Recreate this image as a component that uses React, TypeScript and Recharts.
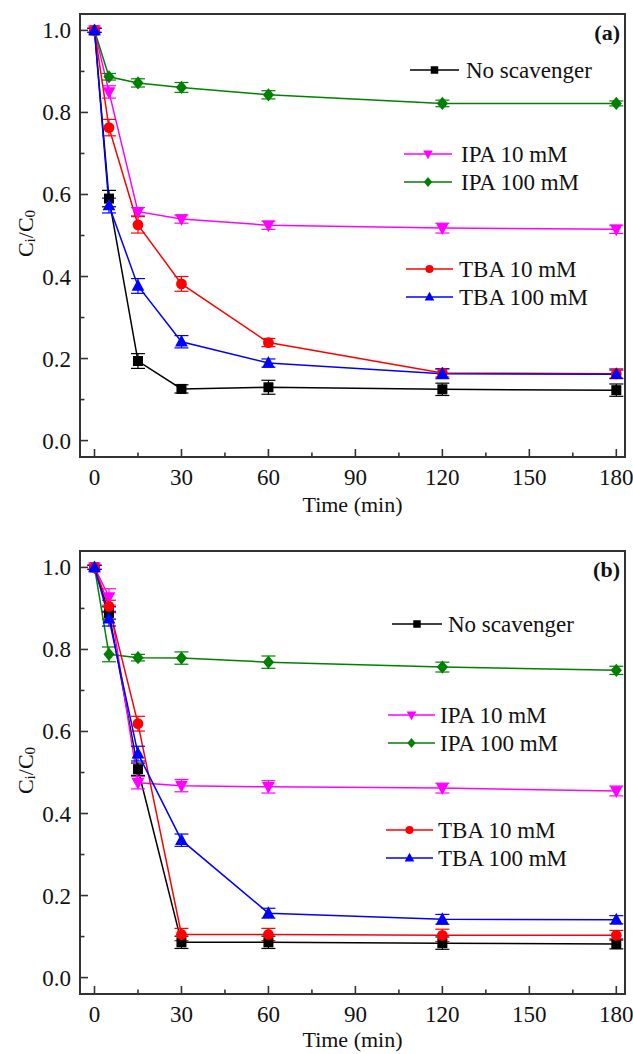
import React from 'react';
import { LineChart, Line, XAxis, YAxis, ErrorBar, ReferenceArea, Label } from 'recharts';

// sampling times (min)
const times = [0, 5, 15, 30, 60, 120, 180];

// panel (a) — Ci/C0
const aNoScav = [1.0, 0.59, 0.194, 0.126, 0.13, 0.125, 0.123];
const aIpa10 = [1.0, 0.85, 0.558, 0.54, 0.525, 0.518, 0.515];
const aIpa100 = [1.0, 0.887, 0.872, 0.861, 0.843, 0.822, 0.822];
const aTba10 = [1.0, 0.763, 0.526, 0.382, 0.239, 0.165, 0.163];
const aTba100 = [1.0, 0.573, 0.377, 0.241, 0.189, 0.163, 0.162];

const aNoScavErr = [0.005, 0.02, 0.018, 0.01, 0.017, 0.015, 0.015];
const aIpa10Err = [0.005, 0.015, 0.01, 0.01, 0.01, 0.012, 0.01];
const aIpa100Err = [0.005, 0.008, 0.01, 0.012, 0.01, 0.008, 0.006];
const aTba10Err = [0.005, 0.02, 0.02, 0.018, 0.01, 0.01, 0.012];
const aTba100Err = [0.005, 0.018, 0.018, 0.015, 0.01, 0.012, 0.01];

// panel (b) — Ci/C0
const bNoScav = [1.0, 0.889, 0.508, 0.086, 0.086, 0.084, 0.082];
const bIpa10 = [1.0, 0.928, 0.475, 0.468, 0.465, 0.462, 0.455];
const bIpa100 = [1.0, 0.788, 0.78, 0.779, 0.769, 0.757, 0.749];
const bTba10 = [1.0, 0.905, 0.619, 0.105, 0.105, 0.103, 0.103];
const bTba100 = [1.0, 0.875, 0.546, 0.335, 0.157, 0.142, 0.141];

const bNoScavErr = [0.005, 0.015, 0.015, 0.015, 0.015, 0.015, 0.012];
const bIpa10Err = [0.005, 0.02, 0.015, 0.015, 0.015, 0.012, 0.012];
const bIpa100Err = [0.005, 0.018, 0.008, 0.015, 0.015, 0.012, 0.01];
const bTba10Err = [0.005, 0.015, 0.018, 0.015, 0.015, 0.015, 0.012];
const bTba100Err = [0.005, 0.018, 0.018, 0.015, 0.012, 0.012, 0.01];

const seriesNames = ['No scavenger', 'IPA 10 mM', 'IPA 100 mM', 'TBA 10 mM', 'TBA 100 mM'];
const seriesColors = ['#000000', '#ff00ff', '#008000', '#ff0000', '#0000ff'];
const seriesMarkers = ['square', 'tridown', 'diamond', 'circle', 'triup'];

const xTicks = [0, 15, 30, 45, 60, 75, 90, 105, 120, 135, 150, 165, 180];
const yTicks = [0, 0.1, 0.2, 0.3, 0.4, 0.5, 0.6, 0.7, 0.8, 0.9, 1.0];

const FONT = '"Liberation Serif", "Times New Roman", serif';
const AXIS = '#333';

const buildRows = (vals: number[][], errs: number[][]) =>
  times.map((t, i) => {
    const row: any = { t };
    vals.forEach((v, k) => {
      row[`s${k}`] = v[i];
      row[`e${k}`] = errs[k][i];
    });
    return row;
  });

const rowsA = buildRows(
  [aNoScav, aIpa10, aIpa100, aTba10, aTba100],
  [aNoScavErr, aIpa10Err, aIpa100Err, aTba10Err, aTba100Err]
);
const rowsB = buildRows(
  [bNoScav, bIpa10, bIpa100, bTba10, bTba100],
  [bNoScavErr, bIpa10Err, bIpa100Err, bTba10Err, bTba100Err]
);

const Marker = ({ kind, cx, cy, color, s = 1 }: any) => {
  if (cx == null || cy == null) return null;
  if (kind === 'square') {
    const h = 5 * s;
    return <rect x={cx - h} y={cy - h} width={2 * h} height={2 * h} fill={color} />;
  }
  if (kind === 'circle') return <circle cx={cx} cy={cy} r={5.4 * s} fill={color} />;
  if (kind === 'diamond') {
    const w = 5.6 * s, h = 6.6 * s;
    return <polygon points={`${cx},${cy - h} ${cx + w},${cy} ${cx},${cy + h} ${cx - w},${cy}`} fill={color} />;
  }
  const w = 6.4 * s, up = 7 * s, dn = 4.8 * s;
  if (kind === 'triup')
    return <polygon points={`${cx},${cy - up} ${cx + w},${cy + dn} ${cx - w},${cy + dn}`} fill={color} />;
  return <polygon points={`${cx},${cy + up} ${cx + w},${cy - dn} ${cx - w},${cy - dn}`} fill={color} />;
};

const XTick = ({ x, y, payload }: any) => {
  const major = payload.value % 30 === 0;
  return (
    <g>
      <line x1={x} y1={y} x2={x} y2={y - (major ? 8 : 4.5)} stroke={AXIS} strokeWidth={1.6} />
      {major && (
        <text x={x} y={y + 28} textAnchor="middle" fontSize={23} fontFamily={FONT} fill="#111">
          {payload.value}
        </text>
      )}
    </g>
  );
};

const YTick = ({ x, y, payload }: any) => {
  const major = Math.round(payload.value * 10) % 2 === 0;
  return (
    <g>
      <line x1={x} y1={y} x2={x + (major ? 8 : 4.5)} y2={y} stroke={AXIS} strokeWidth={1.6} />
      {major && (
        <text x={x - 9} y={y + 8} textAnchor="end" fontSize={23} fontFamily={FONT} fill="#111">
          {payload.value.toFixed(1)}
        </text>
      )}
    </g>
  );
};

type LegendRow = { idx: number; y: number; x1: number; x2: number; tx: number };

const Panel = ({ rows, height, tag, legend, titleGap }: any) => {
  const legendRows: LegendRow[] = legend;
  return (
    <div style={{ position: 'relative', width: 633, height }}>
      <LineChart width={633} height={height} data={rows} margin={{ top: 14, right: 8, left: 0, bottom: 0 }}>
        <XAxis
          dataKey="t"
          type="number"
          domain={[-5, 183]}
          ticks={xTicks}
          interval={0}
          tickSize={0}
          tickMargin={0}
          axisLine={false}
          tick={<XTick />}
          height={height - 14 - 443}
        >
          <Label
            content={({ viewBox }: any) => (
              <text
                x={viewBox.x + viewBox.width / 2}
                y={viewBox.y + titleGap}
                textAnchor="middle"
                fontSize={22}
                fontFamily={FONT}
                fill="#111"
              >
                Time (min)
              </text>
            )}
          />
        </XAxis>
        <YAxis
          type="number"
          domain={[-0.04, 1.04]}
          ticks={yTicks}
          interval={0}
          tickSize={0}
          tickMargin={0}
          axisLine={false}
          tick={<YTick />}
          width={80}
        >
          <Label
            content={({ viewBox }: any) => {
              const cx = 25;
              const cy = viewBox.y + viewBox.height / 2 - 2;
              return (
                <text
                  x={cx}
                  y={cy}
                  transform={`rotate(-90, ${cx}, ${cy})`}
                  textAnchor="middle"
                  dominantBaseline="central"
                  fontSize={22}
                  fontFamily={FONT}
                  fill="#111"
                >
                  C
                  <tspan dy={5} fontSize={15}>i</tspan>
                  <tspan dy={-5}>/C</tspan>
                  <tspan dy={5} fontSize={15}>0</tspan>
                </text>
              );
            }}
          />
        </YAxis>
        <ReferenceArea x1={-5} x2={183} y1={-0.04} y2={1.04} fill="none" stroke={AXIS} strokeWidth={2} ifOverflow="visible" />
        {seriesNames.map((name, k) => (
          <Line
            key={name}
            name={name}
            dataKey={`s${k}`}
            stroke={seriesColors[k]}
            strokeWidth={1.5}
            isAnimationActive={false}
            activeDot={false}
            dot={(p: any) => (
              <Marker key={`${k}-${p.index}`} kind={seriesMarkers[k]} cx={p.cx} cy={p.cy} color={seriesColors[k]} />
            )}
          >
            <ErrorBar dataKey={`e${k}`} width={7} stroke={seriesColors[k]} strokeWidth={1.2} direction="y" />
          </Line>
        ))}
      </LineChart>
      <svg width={633} height={height} style={{ position: 'absolute', left: 0, top: 0, pointerEvents: 'none' }}>
        <text x={620} y={40} textAnchor="end" fontSize={22} fontWeight="bold" fontFamily={FONT} fill="#111">
          {tag}
        </text>
        {legendRows.map((r) => (
          <g key={r.idx}>
            <line x1={r.x1} y1={r.y} x2={r.x2} y2={r.y} stroke={seriesColors[r.idx]} strokeWidth={1.5} />
            <Marker kind={seriesMarkers[r.idx]} cx={(r.x1 + r.x2) / 2} cy={r.y} color={seriesColors[r.idx]} s={0.75} />
            <text x={r.tx} y={r.y + 8} fontSize={23} fontFamily={FONT} fill="#111">
              {seriesNames[r.idx]}
            </text>
          </g>
        ))}
      </svg>
    </div>
  );
};

const legendA: LegendRow[] = [
  { idx: 0, y: 70, x1: 410, x2: 459, tx: 466 },
  { idx: 1, y: 154, x1: 404, x2: 452, tx: 461 },
  { idx: 2, y: 182, x1: 404, x2: 452, tx: 461 },
  { idx: 3, y: 269, x1: 406, x2: 453, tx: 459 },
  { idx: 4, y: 297, x1: 406, x2: 453, tx: 459 },
];

const legendB: LegendRow[] = [
  { idx: 0, y: 87, x1: 392, x2: 442, tx: 448 },
  { idx: 1, y: 178, x1: 388, x2: 435, tx: 440 },
  { idx: 2, y: 206, x1: 388, x2: 435, tx: 440 },
  { idx: 3, y: 293, x1: 386, x2: 433, tx: 438 },
  { idx: 4, y: 321, x1: 386, x2: 433, tx: 438 },
];

export default function App() {
  return (
    <div style={{ width: 633, background: '#fff' }}>
      <style>{'body{margin:0;background:#fff}'}</style>
      <Panel rows={rowsA} height={537} tag="(a)" legend={legendA} titleGap={55} />
      <Panel rows={rowsB} height={517} tag="(b)" legend={legendB} titleGap={53} />
    </div>
  );
}
